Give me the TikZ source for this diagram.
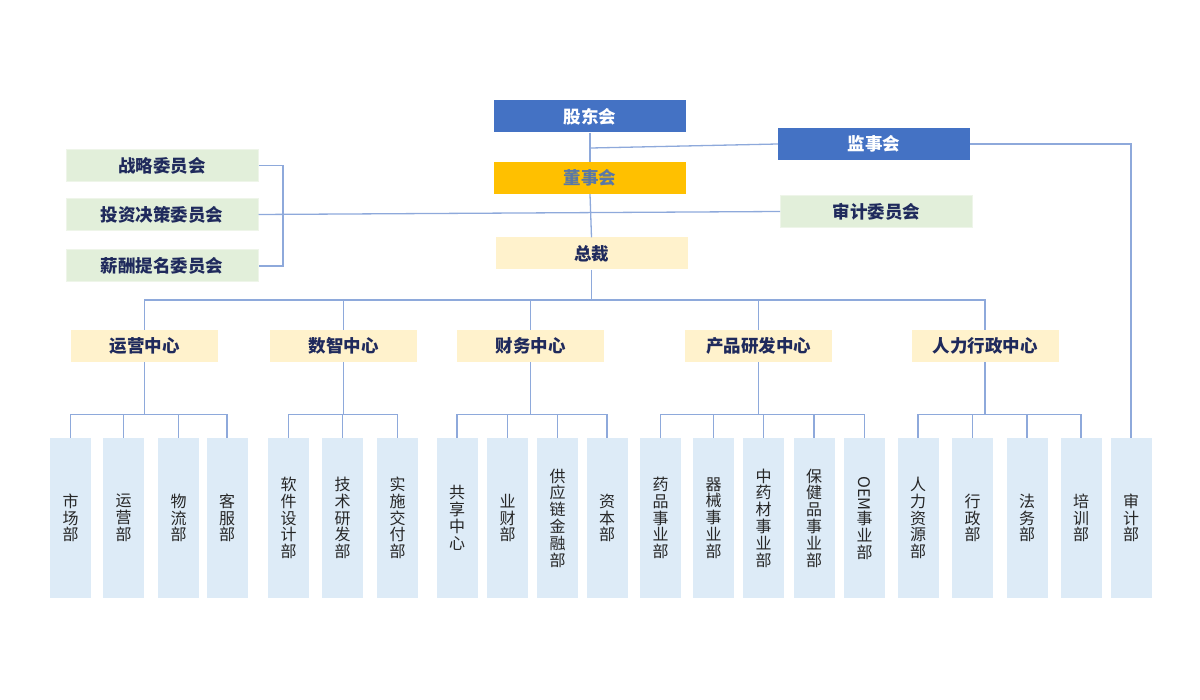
\documentclass[tikz,border=0pt]{standalone}
\usepackage{fontspec}
\setmainfont{Noto Sans CJK SC}
\definecolor{hdrblue}{HTML}{4472C4}
\definecolor{gold}{HTML}{FFC000}
\definecolor{goldtext}{HTML}{5A78A6}
\definecolor{cream}{HTML}{FFF2CC}
\definecolor{paleg}{HTML}{E2EFDA}
\definecolor{deptb}{HTML}{DDEBF7}
\definecolor{navy}{HTML}{1F2A5C}
\definecolor{deptt}{HTML}{262626}
\definecolor{lineb}{HTML}{8EA9DB}
\begin{document}
\begin{tikzpicture}[x=1pt,y=-1pt,
  topbox/.style={inner sep=0pt, minimum width=192pt, minimum height=32pt, font=\fontsize{17.5}{20}\selectfont\bfseries},
  bluebox/.style={topbox, fill=hdrblue, text=white},
  goldbox/.style={topbox, fill=gold, text=goldtext},
  creambox/.style={topbox, fill=cream, text=navy},
  greenbox/.style={topbox, fill=paleg, draw=paleg!60!white, line width=1pt, text=navy},
  centerbox/.style={inner sep=0pt, minimum width=147pt, minimum height=32pt, fill=cream, text=navy, font=\fontsize{17.5}{20}\selectfont\bfseries},
  deptbox/.style={inner sep=0pt, minimum width=41pt, minimum height=160pt, fill=deptb, text=deptt, align=center, font=\fontsize{16}{16.8}\selectfont},
  conn/.style={draw=lineb, line width=1.3pt}
]
\useasboundingbox (0,0) rectangle (1200,700);

% top level
\node[bluebox] (gd) at (590,116.5) {股东会};
\node[bluebox] (js) at (874,144) {监事会};
\node[goldbox] (ds) at (590,178) {董事会};
\node[creambox] (zc) at (591.5,253.5) {总裁};
\node[greenbox] (sjw) at (876.5,211.5) {审计委员会};
\node[greenbox] (zl) at (162,165.5) {战略委员会};
\node[greenbox] (tz) at (162,214.5) {投资决策委员会};
\node[greenbox] (xc) at (162,266) {薪酬提名委员会};

% centers
\node[centerbox] (yy) at (144.5,346) {运营中心};
\node[centerbox] (sz) at (343.5,346) {数智中心};
\node[centerbox] (cw) at (530.5,346) {财务中心};
\node[centerbox] (cp) at (758.5,346) {产品研发中心};
\node[centerbox] (rl) at (985,346) {人力行政中心};

% departments
\node[deptbox] (d1) at (70.5,518) {市\\场\\部};
\node[deptbox] (d2) at (123.5,518) {运\\营\\部};
\node[deptbox] (d3) at (178.5,518) {物\\流\\部};
\node[deptbox] (d4) at (227,518) {客\\服\\部};
\node[deptbox] (d5) at (288.5,518) {软\\件\\设\\计\\部};
\node[deptbox] (d6) at (342.5,518) {技\\术\\研\\发\\部};
\node[deptbox] (d7) at (397.5,518) {实\\施\\交\\付\\部};
\node[deptbox] (d8) at (457,518) {共\\享\\中\\心};
\node[deptbox] (d9) at (507.5,518) {业\\财\\部};
\node[deptbox] (d10) at (557.5,518) {供\\应\\链\\金\\融\\部};
\node[deptbox] (d11) at (607,518) {资\\本\\部};
\node[deptbox] (d12) at (660.5,518) {药\\品\\事\\业\\部};
\node[deptbox] (d13) at (713.5,518) {器\\械\\事\\业\\部};
\node[deptbox] (d14) at (763.5,518) {中\\药\\材\\事\\业\\部};
\node[deptbox] (d15) at (814,518) {保\\健\\品\\事\\业\\部};
\node[deptbox] (d16) at (864.5,518) {\rotatebox[origin=c]{-90}{OEM}\\事\\业\\部};
\node[deptbox] (d17) at (918,518) {人\\力\\资\\源\\部};
\node[deptbox] (d18) at (972.5,518) {行\\政\\部};
\node[deptbox] (d19) at (1027,518) {法\\务\\部};
\node[deptbox] (d20) at (1081,518) {培\\训\\部};
\node[deptbox] (d21) at (1131,518) {审\\计\\部};

% junction coordinates
\coordinate (j1) at (591,148);
\coordinate (bx) at (283,0);
\coordinate (bus) at (0,300);
\coordinate (sub) at (0,414.5);

% connectors top
\draw[conn] (gd.south) -- (ds.north);
\draw[conn] (j1) -- (js.west);
\draw[conn] (js.east) -| (d21.north);
\draw[conn] (ds.south) -- (zc.north);
\draw[conn] (zl.east) -| (zl.east -| bx) -- (xc.east -| bx) -- (xc.east);
\draw[conn] (tz.east) -- (sjw.west);

% bus under president
\draw[conn] (zc.south) -- (zc.south |- bus);
\draw[conn] (yy.north) -- (yy.north |- bus) -- (rl.north |- bus) -- (rl.north);
\foreach \c in {sz,cw,cp} \draw[conn] (\c.north) -- (\c.north |- bus);

% sub buses
\foreach \c/\a/\b in {yy/d1/d4, sz/d5/d7, cw/d8/d11, cp/d12/d16, rl/d17/d20}{
  \draw[conn] (\c.south) -- (\c.south |- sub);
  \draw[conn] (\a.north |- sub) -- (\b.north |- sub);
}
\foreach \d in {d1,d2,d3,d4,d5,d6,d7,d8,d9,d10,d11,d12,d13,d14,d15,d16,d17,d18,d19,d20}
  \draw[conn] (\d.north |- sub) -- (\d.north);
\end{tikzpicture}
\end{document}
